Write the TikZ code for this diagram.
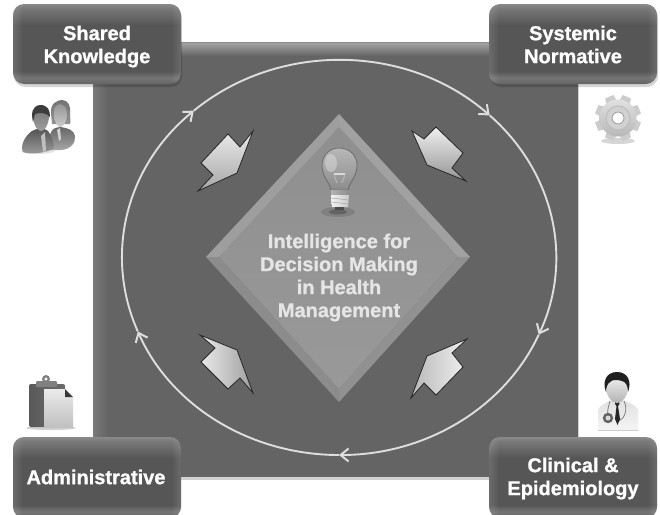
\documentclass[tikz,border=0pt]{standalone}
\usepackage{fontspec}
\setmainfont[BoldFeatures={FakeBold=1}]{Liberation Sans}
\usetikzlibrary{arrows.meta,fadings}
\definecolor{c555}{HTML}{565656}
\definecolor{c666}{HTML}{666666}
\definecolor{c707}{HTML}{747474}
\definecolor{c777}{HTML}{777777}
\definecolor{c888}{HTML}{8A8A8A}
\definecolor{panelc}{HTML}{646464}
\definecolor{ringc}{HTML}{DEDEDE}
\pgfdeclareverticalshading{boxshade}{100bp}{
  color(0bp)=(c666);color(25bp)=(c666);color(29bp)=(c707);color(33bp)=(c555);
  color(62bp)=(c555);color(72bp)=(c777);color(75bp)=(c888);color(100bp)=(c888)}
\tikzset{
  x=1pt,y=-1pt,
  boxshape/.style={rounded corners=11pt,shade,shading=boxshade},
  boxlabel/.style={font=\fontsize{20}{23}\selectfont\bfseries,text=white,align=center,inner sep=0pt},
  centerlabel/.style={font=\fontsize{20}{23}\selectfont\bfseries,text=black!10,align=center,inner sep=0pt},
  ring/.style={draw=ringc,line width=1.9pt,-{Straight Barb[length=8pt,width=13pt,line width=2pt]}},
  blockarrow/.style={draw=black!85,line width=.8pt,line join=miter},
  softshadow/.style={fill=black,opacity=.16,rounded corners=11pt},
  sidesheen/.style={fill=white,opacity=.13},
}
\begin{document}
\begin{tikzpicture}
\useasboundingbox (0,0) rectangle (660,514);
\fill[white] (0,0) rectangle (660,514);
% panel
\fill[black!18] (93,46) rectangle (579,480);
\fill[panelc] (93,42) rectangle (578,477);
\shade[top color=black!36,bottom color=panelc] (93,43) rectangle (578,56);
\fill[black!45] (93,42) rectangle (578,43);
\shade[left color=black!52,right color=panelc] (93,56) rectangle (108,477);
% ring
\draw[ring] (339,257.5) ++(158:217 and 197.5) arc[start angle=158,end angle=228,x radius=217,y radius=197.5];
\draw[ring] (339,257.5) ++(228:217 and 197.5) arc[start angle=228,end angle=314,x radius=217,y radius=197.5];
\draw[ring] (339,257.5) ++(314:217 and 197.5) arc[start angle=314,end angle=383,x radius=217,y radius=197.5];
\draw[ring] (339,257.5) ++(23:217 and 197.5) arc[start angle=23,end angle=90,x radius=217,y radius=197.5];
\draw[ring] (339,257.5) ++(90:217 and 197.5) arc[start angle=90,end angle=158,x radius=217,y radius=197.5];
% diamond
\coordinate (dT) at (339,114); \coordinate (dR) at (470,257);
\coordinate (dB) at (339,402); \coordinate (dL) at (206,257);
\coordinate (iT) at (339,127); \coordinate (iR) at (458,257);
\coordinate (iB) at (339,389); \coordinate (iL) at (219,257);
\shade[top color=black!44,bottom color=black!40] (iT)--(iR)--(iB)--(iL)--cycle;
\fill[black!37] (dT)--(dR)--(iR)--(iT)--cycle;
\fill[black!38] (dT)--(dL)--(iL)--(iT)--cycle;
\fill[black!43] (dB)--(dR)--(iR)--(iB)--cycle;
\fill[black!45] (dB)--(dL)--(iL)--(iB)--cycle;
% bulb
\fill[black,opacity=.12] (338,212) ellipse[x radius=17,y radius=5];
\fill[black,opacity=.22] (338,212) ellipse[x radius=9,y radius=2.5];
\path[top color=black!28,bottom color=black!45,draw=black!58,line width=.8pt]
  (331,190) .. controls (329,181) and (322,177) .. (322,165) .. controls (322,155) and (330,148) .. (339,148)
  .. controls (349,148) and (357,155) .. (357,165) .. controls (357,177) and (350,181) .. (348,190) -- cycle;
\fill[white,opacity=.3] (331,163) ellipse[x radius=6,y radius=9];
\draw[black!30,line width=1.2pt] (334,175)--(337,183) (345,175)--(342,183);
\draw[white!85!black,line width=1.5pt] (334,174)--(345,174);
\shade[left color=black!30,right color=black!45] (331,190)--(348,190)--(349,195)--(331,195)--cycle;
\shade[left color=black!5,right color=black!22] (331,195)--(349,195)--(348,207)--(332,207)--cycle;
\draw[black!35,line width=.5pt] (331,198)--(349,200) (331,202)--(349,204);
\fill[black!70] (335,207) rectangle (344,209.5);
% block arrows
\path[blockarrow,top color=black!8,bottom color=black!35] (253,131)--(240,147)--(228,134)--(201,163)--(213,175)--(198,191)--(237,173)--cycle;
\path[blockarrow,top color=black!6,bottom color=black!42] (412,131)--(427,165)--(466,181)--(452,168)--(463,153)--(436,127)--(424,139)--cycle;
\path[blockarrow,left color=black!8,right color=black!38] (200,335)--(237,350)--(253,393)--(240,378)--(228,389)--(201,362)--(215,348)--cycle;
\path[blockarrow,left color=black!28,right color=black!6] (467,339)--(427,356)--(411,398)--(424,383)--(436,395)--(463,367)--(452,353)--cycle;
% boxes
\fill[softshadow] (14,7) rectangle (182,87);
\fill[softshadow] (490,7) rectangle (658,87);
\path[boxshape] (13,4) rectangle (181,84);
\path[boxshape] (489,4) rectangle (657,84);
\path[boxshape] (13,437) rectangle (181,518);
\path[boxshape] (489,437) rectangle (657,518);
\foreach \bx/\by in {13/4,489/4,13/437,489/437}{
  \begin{scope}
    \clip[rounded corners=11pt] (\bx,\by) rectangle +(168,81);
    \fill[sidesheen,path fading=east] (\bx,\by) rectangle +(10,81);
    \fill[sidesheen,path fading=west] (\bx+158,\by) rectangle +(10,81);
  \end{scope}
}
\node[boxlabel] (shared) at (97,46.5) {Shared\\Knowledge};
\node[boxlabel] (systemic) at (573,44.5) {Systemic\\Normative};
\node[boxlabel] (admin) at (96,477) {Administrative};
\node[boxlabel] (clinical) at (573,478.5) {Clinical \&\\Epidemiology};
\node[centerlabel] (center) at (339,277.5) {Intelligence for\\Decision Making\\in Health\\Management};
% people icon
\fill[black,opacity=.1] (38,151) ellipse[x radius=17,y radius=3];
\path[top color=black!60,bottom color=black!35] (50,135) .. controls (52,128) and (55,128) .. (60,127)
  .. controls (68,128) and (74,130) .. (75,136) .. controls (76,143) and (70,150) .. (60,150) -- (50,150) -- cycle;
\path[top color=black!55,bottom color=black!42] (51,113) .. controls (50,103) and (58,100) .. (62,100)
  .. controls (68,100) and (71,106) .. (70,113) .. controls (70,119) and (71,122) .. (70,124) -- (52,124) -- cycle;
\path[top color=black!42,bottom color=black!20] (60,104) .. controls (54,105) and (54,110) .. (54,115)
  .. controls (54,122) and (58,127) .. (60,127) .. controls (63,127) and (67,122) .. (67,115) .. controls (67,110) and (66,105) .. (60,104);
\fill[black!18] (57,130)--(60,128)--(61,139)--(59,141)--cycle;
\path[top color=black!68,bottom color=black!38] (23,152) .. controls (20,145) and (25,136) .. (32,131)
  .. controls (36,128) and (46,128) .. (48,131) .. controls (52,136) and (55,145) .. (53,149) .. controls (45,153) and (30,155) .. (23,152) -- cycle;
\fill[black!25] (41,136)--(45,132)--(46,151)--(43,152)--cycle;
\path[top color=black!55,bottom color=black!38] (40,106) .. controls (34,106) and (32,112) .. (33,118)
  .. controls (34,125) and (37,131) .. (41,131) .. controls (45,131) and (48,125) .. (49,118) .. controls (50,112) and (47,106) .. (40,106);
\path[fill=black!76] (33,122) .. controls (31,113) and (32,106) .. (40,105) .. controls (48,105) and (50,110) .. (50,117)
  .. controls (47,113) and (40,112) .. (35,114) -- cycle;
% gear icon
\fill[black,opacity=.16] (618,141) ellipse[x radius=17,y radius=3];
\foreach \a in {22.5,67.5,...,360}{
  \fill[black!20,rotate around={\a:(618,118)}] (613.5,95)--(622.5,95)--(623.5,102)--(612.5,102)--cycle;
}
\shade[top color=black!12,bottom color=black!28] (618,118) circle[radius=18.5];
\draw[black!26,line width=1pt,fill=black!18] (618,118) circle[radius=12];
\fill[white] (618,118) circle[radius=5.5];
\draw[black!38,line width=.7pt] (618,118) circle[radius=6];
% clipboard icon
\fill[black,opacity=.18] (51,428) ellipse[x radius=25,y radius=2];
\fill[black!50] (46,379) circle[radius=4];
\fill[white] (46,379) circle[radius=1.7];
\path[left color=black!65,right color=black!58,rounded corners=2pt] (29,384) rectangle (65,427);
\fill[black!50,rounded corners=1pt] (36,381) rectangle (57,387);
\path[top color=black!8,bottom color=black!25] (44,389)--(65,389)--(73,397)--(73,428)--(44,428)--cycle;
\fill[black!78] (65,389)--(73,397)--(65,397)--cycle;
% doctor icon
\path[top color=black!12,bottom color=black!4] (598,430)--(598,410) .. controls (600,405) and (607,402) .. (612,400)
  -- (622,400) .. controls (628,402) and (636,405) .. (638,410) -- (638,430) -- cycle;
\fill[black!20] (598,430) rectangle (638,431);
\draw[black!50,line width=.8pt] (610,401) .. controls (608,408) and (607,412) .. (608,416);
\draw[black!50,line width=.8pt] (624,401) .. controls (628,409) and (625,418) .. (619,421);
\fill[black!85] (615.5,401)--(618.5,401)--(619.5,404)--(618,406)--(620,419)--(617.5,425)--(615,419)--(616.5,406)--(615,404)--cycle;
\fill[black!62] (608,418) circle[radius=5.2];
\fill[black!15] (608,418) circle[radius=2.5];
\path[top color=black!5,bottom color=black!30] (617,375) .. controls (610,375) and (606,382) .. (606,388)
  .. controls (606,395) and (611,403) .. (617,403) .. controls (623,403) and (628,395) .. (628,388) .. controls (628,382) and (624,375) .. (617,375);
\fill[black!88] (606,392) .. controls (602,382) and (606,372) .. (617,372) .. controls (628,372) and (632,382) .. (628,392)
  .. controls (628,386) and (626,382) .. (622,381) .. controls (616,379) and (612,380) .. (610,382) .. controls (607,384) and (606,388) .. (606,392) -- cycle;
\end{tikzpicture}
\end{document}
